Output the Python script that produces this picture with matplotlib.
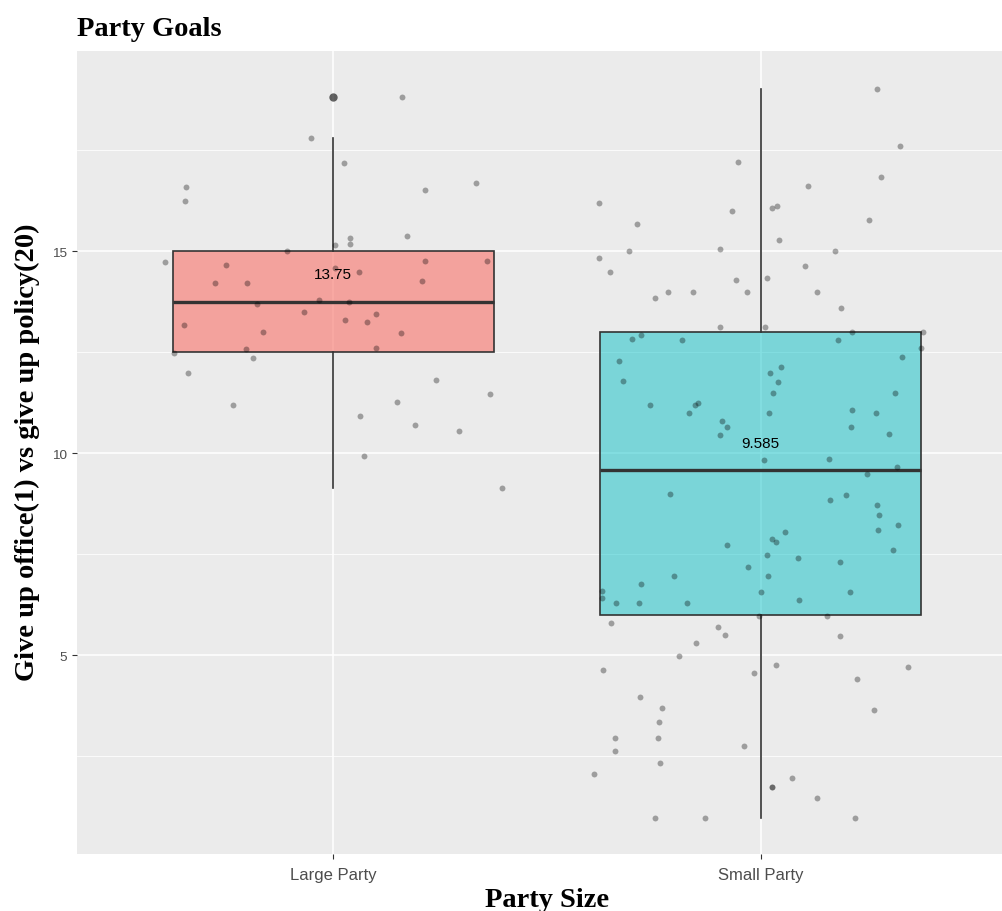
import matplotlib.pyplot as plt
from matplotlib.colors import to_rgba

# groups and box summary values
groups = ["Large Party", "Small Party"]
fills = ["#F8766D", "#00BFC4"]
fill_alpha = [0.62, 0.48]
q1 = [12.5, 6.0]
medians = [13.75, 9.585]
q3 = [15.0, 13.0]
whisker_low = [9.15, 0.96]
whisker_high = [17.8, 19.01]
outliers = [[18.81], []]

# jittered raw responses (x = jittered group position)
large_x = [1.160, 0.947, 1.024, 0.654, 0.653, 1.214, 1.335, 1.039, 1.040, 1.003,
           1.173, 0.892, 0.605, 0.748, 1.215, 1.360, 1.005, 1.061, 0.724, 0.799,
           1.207, 0.821, 0.966, 1.036, 0.931, 1.028, 1.079, 1.099, 0.650, 0.835,
           1.159, 0.796, 1.100, 0.628, 0.812, 0.660, 1.240, 1.367, 0.766, 1.148,
           1.062, 1.191, 1.294, 1.072, 1.394]
large_y = [18.81, 17.80, 17.18, 16.60, 16.25, 16.53, 16.68, 15.32, 15.18, 15.15,
           15.38, 15.00, 14.74, 14.67, 14.77, 14.77, 14.59, 14.50, 14.21, 14.21,
           14.27, 13.70, 13.79, 13.74, 13.49, 13.31, 13.25, 13.45, 13.17, 13.00,
           12.97, 12.59, 12.61, 12.48, 12.35, 11.99, 11.82, 11.47, 11.19, 11.28,
           10.92, 10.69, 10.55, 9.94, 9.15]

small_x = [2.272, 2.325, 1.947, 2.281, 2.112, 1.621, 1.710, 1.932, 2.027, 2.039,
           2.253, 2.044, 1.904, 1.692, 2.173, 1.621, 1.647, 2.104, 1.942, 2.016,
           1.753, 1.783, 1.841, 1.967, 2.132, 2.188, 1.906, 2.011, 2.215, 2.380,
           1.699, 1.720, 1.815, 2.181, 2.376, 1.668, 2.332, 1.678, 2.022, 2.047,
           2.040, 2.028, 1.742, 1.846, 1.853, 1.833, 2.019, 2.215, 2.270, 2.315,
           1.909, 1.921, 1.904, 2.211, 2.301, 2.009, 2.160, 2.320, 2.250, 1.789,
           2.162, 2.199, 2.273, 2.278, 2.322, 2.274, 2.058, 2.026, 2.037, 1.921,
           2.309, 2.015, 2.087, 2.186, 1.970, 1.797, 2.017, 1.721, 1.628, 1.629,
           1.662, 1.715, 1.827, 2.001, 2.089, 2.210, 1.995, 2.156, 1.650, 1.900,
           1.917, 2.185, 1.849, 1.809, 1.632, 1.984, 2.035, 2.346, 2.226, 1.717,
           1.770, 1.763, 1.659, 1.759, 1.660, 1.960, 2.265, 1.765, 1.611, 2.073,
           2.026, 2.026, 2.132, 1.752, 1.869, 2.220]
small_y = [19.01, 17.61, 17.21, 16.84, 16.61, 16.20, 15.68, 16.00, 16.08, 16.12,
           15.77, 15.29, 15.06, 15.00, 15.00, 14.84, 14.50, 14.64, 14.30, 14.33,
           13.85, 14.00, 13.99, 13.99, 14.00, 13.60, 13.13, 13.13, 13.00, 13.00,
           12.84, 12.94, 12.80, 12.80, 12.60, 12.29, 12.38, 11.80, 11.99, 12.14,
           11.76, 11.49, 11.19, 11.20, 11.25, 10.99, 11.00, 11.07, 10.99, 11.49,
           10.79, 10.66, 10.45, 10.66, 10.49, 9.83, 9.85, 9.67, 9.48, 8.99,
           8.84, 8.98, 8.73, 8.48, 8.23, 8.11, 8.06, 7.89, 7.81, 7.73,
           7.61, 7.48, 7.42, 7.30, 7.19, 6.97, 6.97, 6.77, 6.58, 6.41,
           6.30, 6.30, 6.30, 6.57, 6.38, 6.57, 5.98, 5.98, 5.79, 5.71,
           5.50, 5.47, 5.30, 4.98, 4.64, 4.57, 4.77, 4.72, 4.41, 3.96,
           3.70, 3.36, 2.96, 2.96, 2.63, 2.75, 3.64, 2.34, 2.07, 1.96,
           1.74, 1.74, 1.46, 0.96, 0.96, 0.96]

W, H = 1003, 912
fig = plt.figure(figsize=(W / 100, H / 100), dpi=100)
# panel runs a bit past the right edge, like the cropped original
ax = fig.add_axes([77 / W, 1 - 855 / H, 940 / W, 803 / H])
ax.set_facecolor("#EBEBEB")
for s in ax.spines.values():
    s.set_visible(False)

stats = []
for i in range(len(groups)):
    stats.append(dict(q1=q1[i], med=medians[i], q3=q3[i],
                      whislo=whisker_low[i], whishi=whisker_high[i],
                      fliers=outliers[i]))

bp = ax.bxp(stats, positions=[1, 2], widths=0.75, patch_artist=True,
            showcaps=False,
            boxprops=dict(edgecolor="#333333", linewidth=1.2),
            medianprops=dict(color="#333333", linewidth=2.4),
            whiskerprops=dict(color="#333333", linewidth=1.2),
            flierprops=dict(marker="o", markerfacecolor="black",
                            markeredgewidth=0, markersize=6, alpha=0.6),
            zorder=2)
for box, col, a in zip(bp["boxes"], fills, fill_alpha):
    box.set_facecolor(to_rgba(col, a))

ax.scatter(large_x, large_y, s=18, color="black", alpha=0.33,
           linewidths=0, zorder=3)
ax.scatter(small_x, small_y, s=18, color="black", alpha=0.33,
           linewidths=0, zorder=3)

for i, m in enumerate(medians):
    ax.text(i + 1, m + 0.68, f"{m:g}", ha="center", va="center",
            fontsize=11, family="Liberation Sans", color="black", zorder=4)

ax.set_xlim(0.4, 2.6)
ax.set_ylim(0.08, 19.96)
ax.set_xticks([1, 2])
ax.set_xticklabels(groups)
ax.set_yticks([5, 10, 15])
ax.set_yticks([2.5, 7.5, 12.5, 17.5], minor=True)
ax.grid(which="major", color="white", linewidth=1.1)
ax.grid(which="minor", axis="y", color="white", linewidth=0.55)
ax.set_axisbelow(True)

ax.tick_params(axis="both", which="major", color="#333333", length=3.6,
               width=0.8)
ax.tick_params(axis="y", which="minor", length=0)
ax.tick_params(axis="y", labelsize=9.7, labelcolor="#4D4D4D", pad=3.6)
ax.tick_params(axis="x", labelsize=12, labelcolor="#4D4D4D", pad=6)
for lab in ax.get_xticklabels() + ax.get_yticklabels():
    lab.set_family("Liberation Sans")

serif = dict(family="Liberation Serif", fontweight="bold", fontsize=20.5)
fig.text(77 / W, 1 - 36 / H, "Party Goals", ha="left", va="baseline", **serif)
fig.text((77 + 940 / 2) / W, 5 / H, "Party Size", ha="center", va="baseline",
         **serif)
fig.text(27 / W, 1 - 452.5 / H, "Give up office(1) vs give up policy(20)",
         rotation=90, ha="center", va="center", **serif)

fig.savefig("out.png", dpi=100)
